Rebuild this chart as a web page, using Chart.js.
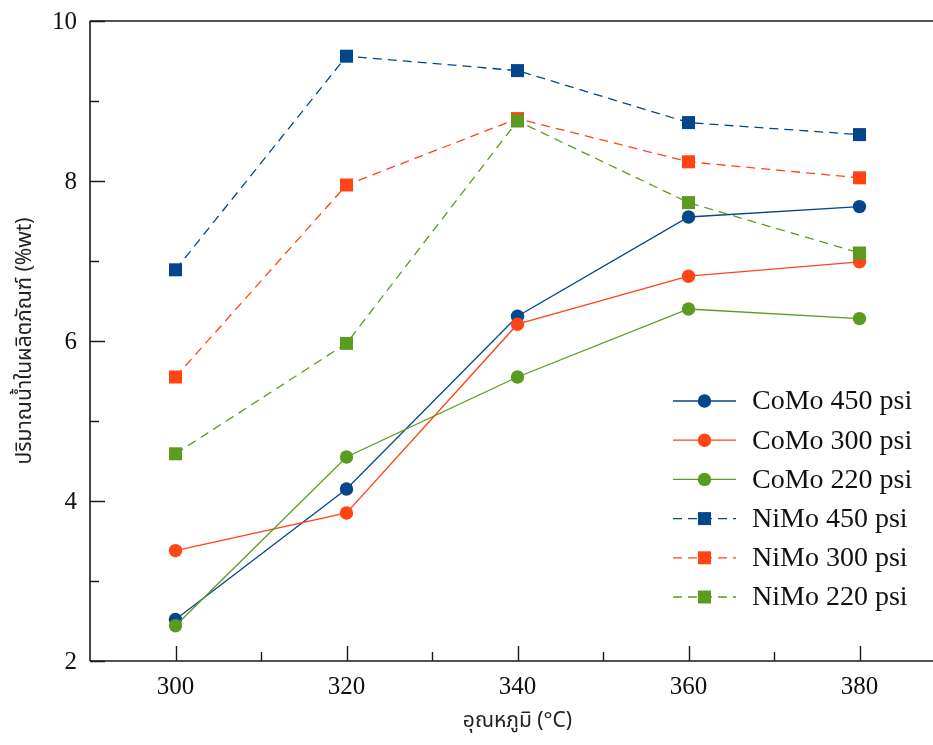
<!DOCTYPE html>
<html>
<head>
<meta charset="utf-8">
<script src="https://cdn.jsdelivr.net/npm/chart.js@4.4.1/dist/chart.umd.min.js"></script>
<style>
  html, body { margin: 0; padding: 0; background: #ffffff; overflow: hidden; }
  #wrap { width: 946px; height: 745px; }
</style>
</head>
<body>
<div id="wrap"><canvas id="c" width="946" height="745"></canvas></div>
<script>
// Reaction temperatures (°C)
const temperatures = [300, 320, 340, 360, 380];
const xTickValues = [300, 320, 340, 360, 380];
const xTickLabels = ['300', '320', '340', '360', '380'];
const xMinorTicks = [310, 330, 350, 370];
const yTickValues = [2, 4, 6, 8, 10];
const yTickLabels = ['2', '4', '6', '8', '10'];
const yMinorTicks = [3, 5, 7, 9];

// Water content in product (%wt)
const como450 = [2.52, 4.15, 6.31, 7.55, 7.68];
const como300 = [3.38, 3.85, 6.21, 6.81, 6.99];
const como220 = [2.44, 4.55, 5.55, 6.40, 6.28];
const nimo450 = [6.89, 9.56, 9.38, 8.73, 8.58];
const nimo300 = [5.55, 7.95, 8.78, 8.24, 8.04];
const nimo220 = [4.59, 5.97, 8.75, 7.73, 7.10];

const seriesLabels = ['CoMo 450 psi', 'CoMo 300 psi', 'CoMo 220 psi', 'NiMo 450 psi', 'NiMo 300 psi', 'NiMo 220 psi'];

const BLUE = '#03478A';
const ORANGE = '#FF4416';
const GREEN = '#5B9C20';
const DASH = [9, 6];

function pts(values) {
  return temperatures.map((t, i) => ({ x: t, y: values[i] }));
}

function series(label, values, color, shape, dashed, order) {
  return {
    label: label,
    data: pts(values),
    borderColor: color,
    backgroundColor: color,
    borderWidth: 1.3,
    borderDash: dashed ? DASH : [],
    pointStyle: shape,
    pointRadius: shape === 'rect' ? 9.2 : 6.7,
    pointBorderWidth: 0,
    pointBackgroundColor: color,
    tension: 0,
    fill: false,
    order: order
  };
}

const datasets = [
  series(seriesLabels[0], como450, BLUE, 'circle', false, 6),
  series(seriesLabels[1], como300, ORANGE, 'circle', false, 5),
  series(seriesLabels[2], como220, GREEN, 'circle', false, 4),
  series(seriesLabels[3], nimo450, BLUE, 'rect', true, 3),
  series(seriesLabels[4], nimo300, ORANGE, 'rect', true, 2),
  series(seriesLabels[5], nimo220, GREEN, 'rect', true, 1)
];

const SERIF = "'Liberation Serif', 'Times New Roman', serif";
const THAI = "'Noto Sans Thai', 'Noto Sans Thai Looped', 'Loma', 'Garuda', 'Noto Sans', sans-serif";

// Frame with inward major/minor ticks and numeric tick labels
const framePlugin = {
  id: 'frame',
  afterDraw(chart) {
    const { ctx, chartArea: a, scales: { x, y } } = chart;
    ctx.save();
    ctx.strokeStyle = '#1a1a1a';
    ctx.lineWidth = 1.6;
    ctx.beginPath();
    ctx.moveTo(a.left, a.top); ctx.lineTo(a.right, a.top);
    ctx.moveTo(a.left, a.top); ctx.lineTo(a.left, a.bottom);
    ctx.moveTo(a.left, a.bottom); ctx.lineTo(a.right, a.bottom);
    ctx.moveTo(a.right, a.top); ctx.lineTo(a.right, a.bottom);
    ctx.stroke();
    ctx.lineWidth = 1.4;
    ctx.beginPath();
    xTickValues.forEach(v => { const px = Math.round(x.getPixelForValue(v)) + 0.5; ctx.moveTo(px, a.bottom); ctx.lineTo(px, a.bottom - 15); });
    xMinorTicks.forEach(v => { const px = Math.round(x.getPixelForValue(v)) + 0.5; ctx.moveTo(px, a.bottom); ctx.lineTo(px, a.bottom - 9); });
    yTickValues.forEach(v => { const py = Math.round(y.getPixelForValue(v)) + 0.5; ctx.moveTo(a.left, py); ctx.lineTo(a.left + 15, py); });
    yMinorTicks.forEach(v => { const py = Math.round(y.getPixelForValue(v)) + 0.5; ctx.moveTo(a.left, py); ctx.lineTo(a.left + 9, py); });
    ctx.stroke();

    ctx.fillStyle = '#111111';
    ctx.font = "25px " + SERIF;
    ctx.textBaseline = 'middle';
    ctx.textAlign = 'center';
    xTickValues.forEach((v, i) => ctx.fillText(xTickLabels[i], x.getPixelForValue(v), a.bottom + 26));
    ctx.textAlign = 'right';
    yTickValues.forEach((v, i) => ctx.fillText(yTickLabels[i], a.left - 13, y.getPixelForValue(v) + 1));
    ctx.restore();
  }
};

// Legend: line segment with marker, followed by the series name
const legendPlugin = {
  id: 'lineLegend',
  afterDraw(chart) {
    const { ctx } = chart;
    const x0 = 673, x1 = 736, xm = 704.5, xt = 752, y0 = 401, dy = 39.2;
    ctx.save();
    chart.data.datasets.forEach((ds, i) => {
      const yy = y0 + i * dy;
      ctx.strokeStyle = ds.borderColor;
      ctx.lineWidth = ds.borderWidth;
      ctx.setLineDash(ds.borderDash);
      ctx.beginPath();
      ctx.moveTo(x0, yy); ctx.lineTo(x1, yy);
      ctx.stroke();
      ctx.setLineDash([]);
      ctx.fillStyle = ds.borderColor;
      ctx.beginPath();
      if (ds.pointStyle === 'rect') {
        const s = ds.pointRadius * Math.SQRT1_2;
        ctx.rect(xm - s, yy - s, 2 * s, 2 * s);
      } else {
        ctx.arc(xm, yy, ds.pointRadius, 0, Math.PI * 2);
      }
      ctx.fill();
      ctx.fillStyle = '#111111';
      ctx.font = "28px " + SERIF;
      ctx.textAlign = 'left';
      ctx.textBaseline = 'middle';
      ctx.fillText(ds.label, xt, yy + 1);
    });
    ctx.restore();
  }
};

new Chart(document.getElementById('c'), {
  type: 'line',
  data: { datasets: datasets },
  options: {
    responsive: false,
    animation: false,
    events: [],
    layout: { autoPadding: false, padding: { top: 21, right: 1, left: 0, bottom: 0 } },
    plugins: {
      legend: { display: false },
      tooltip: { enabled: false },
      title: { display: false }
    },
    scales: {
      x: {
        type: 'linear',
        min: 290,
        max: 390,
        border: { display: false },
        grid: { display: false, drawTicks: false, tickLength: 0 },
        afterBuildTicks(scale) { scale.ticks = xTickValues.map(v => ({ value: v })); },
        afterFit(scale) { scale.height = 84; },
        ticks: { display: false },
        title: {
          display: true,
          text: 'อุณหภูมิ (°C)',
          color: '#222222',
          font: { family: THAI, size: 21 },
          padding: { top: 0, bottom: 10 }
        }
      },
      y: {
        type: 'linear',
        min: 2,
        max: 10,
        border: { display: false },
        grid: { display: false, drawTicks: false, tickLength: 0 },
        afterBuildTicks(scale) { scale.ticks = yTickValues.map(v => ({ value: v })); },
        afterFit(scale) { scale.width = 90; },
        ticks: { display: false },
        title: {
          display: true,
          text: 'ปริมาณน้ำในผลิตภัณฑ์ (%wt)',
          color: '#222222',
          font: { family: THAI, size: 21 },
          padding: { top: 14, bottom: 0 }
        }
      }
    }
  },
  plugins: [framePlugin, legendPlugin]
});
</script>
</body>
</html>
